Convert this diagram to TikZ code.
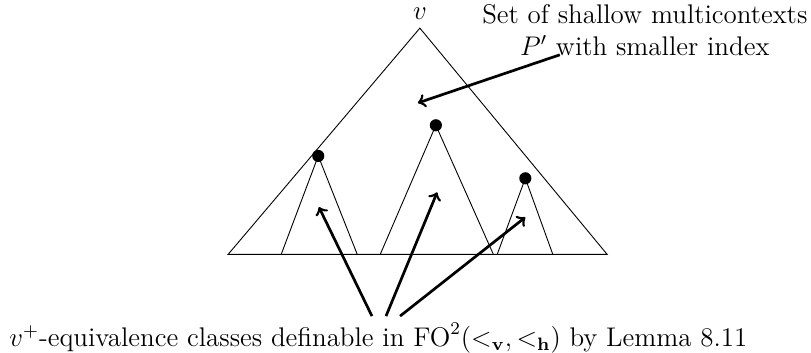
\documentclass[12pt,tikz,border=0pt]{standalone}
\usepackage{amsmath}
\usepackage{tikz}
\usetikzlibrary{positioning, calc}

\begin{document}
\begin{tikzpicture}[
  tri/.style  = {draw, line width=0.4pt},
  dot/.style  = {circle, fill=black, inner sep=0pt, minimum size=0.19cm},
  arr/.style  = {->, line width=1.2pt},
  lbl/.style  = {align=center, inner sep=1pt},
]
\useasboundingbox (0,0) rectangle (12.69,5.51);

% Big tree
\coordinate (root) at (6.57,5.07);
\coordinate (bl) at (3.57,1.53);
\coordinate (br) at (9.50,1.53);
\draw[tri] (bl) -- (root) -- (br) -- cycle;
\node[above=2.5pt of root, inner sep=1pt] (v) {$v$};

% Subtrees
\node[dot] (d1) at (4.98,3.07) {};
\node[dot] (d2) at (6.82,3.55) {};
\node[dot] (d3) at (8.22,2.72) {};
\draw[tri] (4.40,1.53) -- (d1.center) -- (5.59,1.53);
\draw[tri] (5.95,1.53) -- (d2.center) -- (7.72,1.53);
\draw[tri] (7.78,1.53) -- (d3.center) -- (8.65,1.53);

% Labels
\node[lbl] (ctx) at (10.09,5.04) {Set of shallow multicontexts\\ $P'$ with smaller index};
\node[lbl] (lemma) at (5.92,0.22)
  {$v^+$-equivalence classes definable in $\mathrm{FO}^2(<_{\mathbf{v}},<_{\mathbf{h}})$ by Lemma 8.11};

% Arrow targets
\coordinate (top) at (6.54,3.90);
\coordinate (in1) at (4.99,2.27);
\coordinate (in2) at (6.84,2.50);
\coordinate (in3) at (8.22,2.11);

% Arrows
\draw[arr] ([xshift=-1.33cm,yshift=0.06cm]ctx.south) -- (top);
\draw[arr] ([xshift=-0.10cm,yshift=0.07cm]lemma.north) -- (in1);
\draw[arr] ([xshift=0.12cm,yshift=0.07cm]lemma.north) -- (in2);
\draw[arr] ([xshift=0.34cm,yshift=0.07cm]lemma.north) -- (in3);

\end{tikzpicture}
\end{document}
